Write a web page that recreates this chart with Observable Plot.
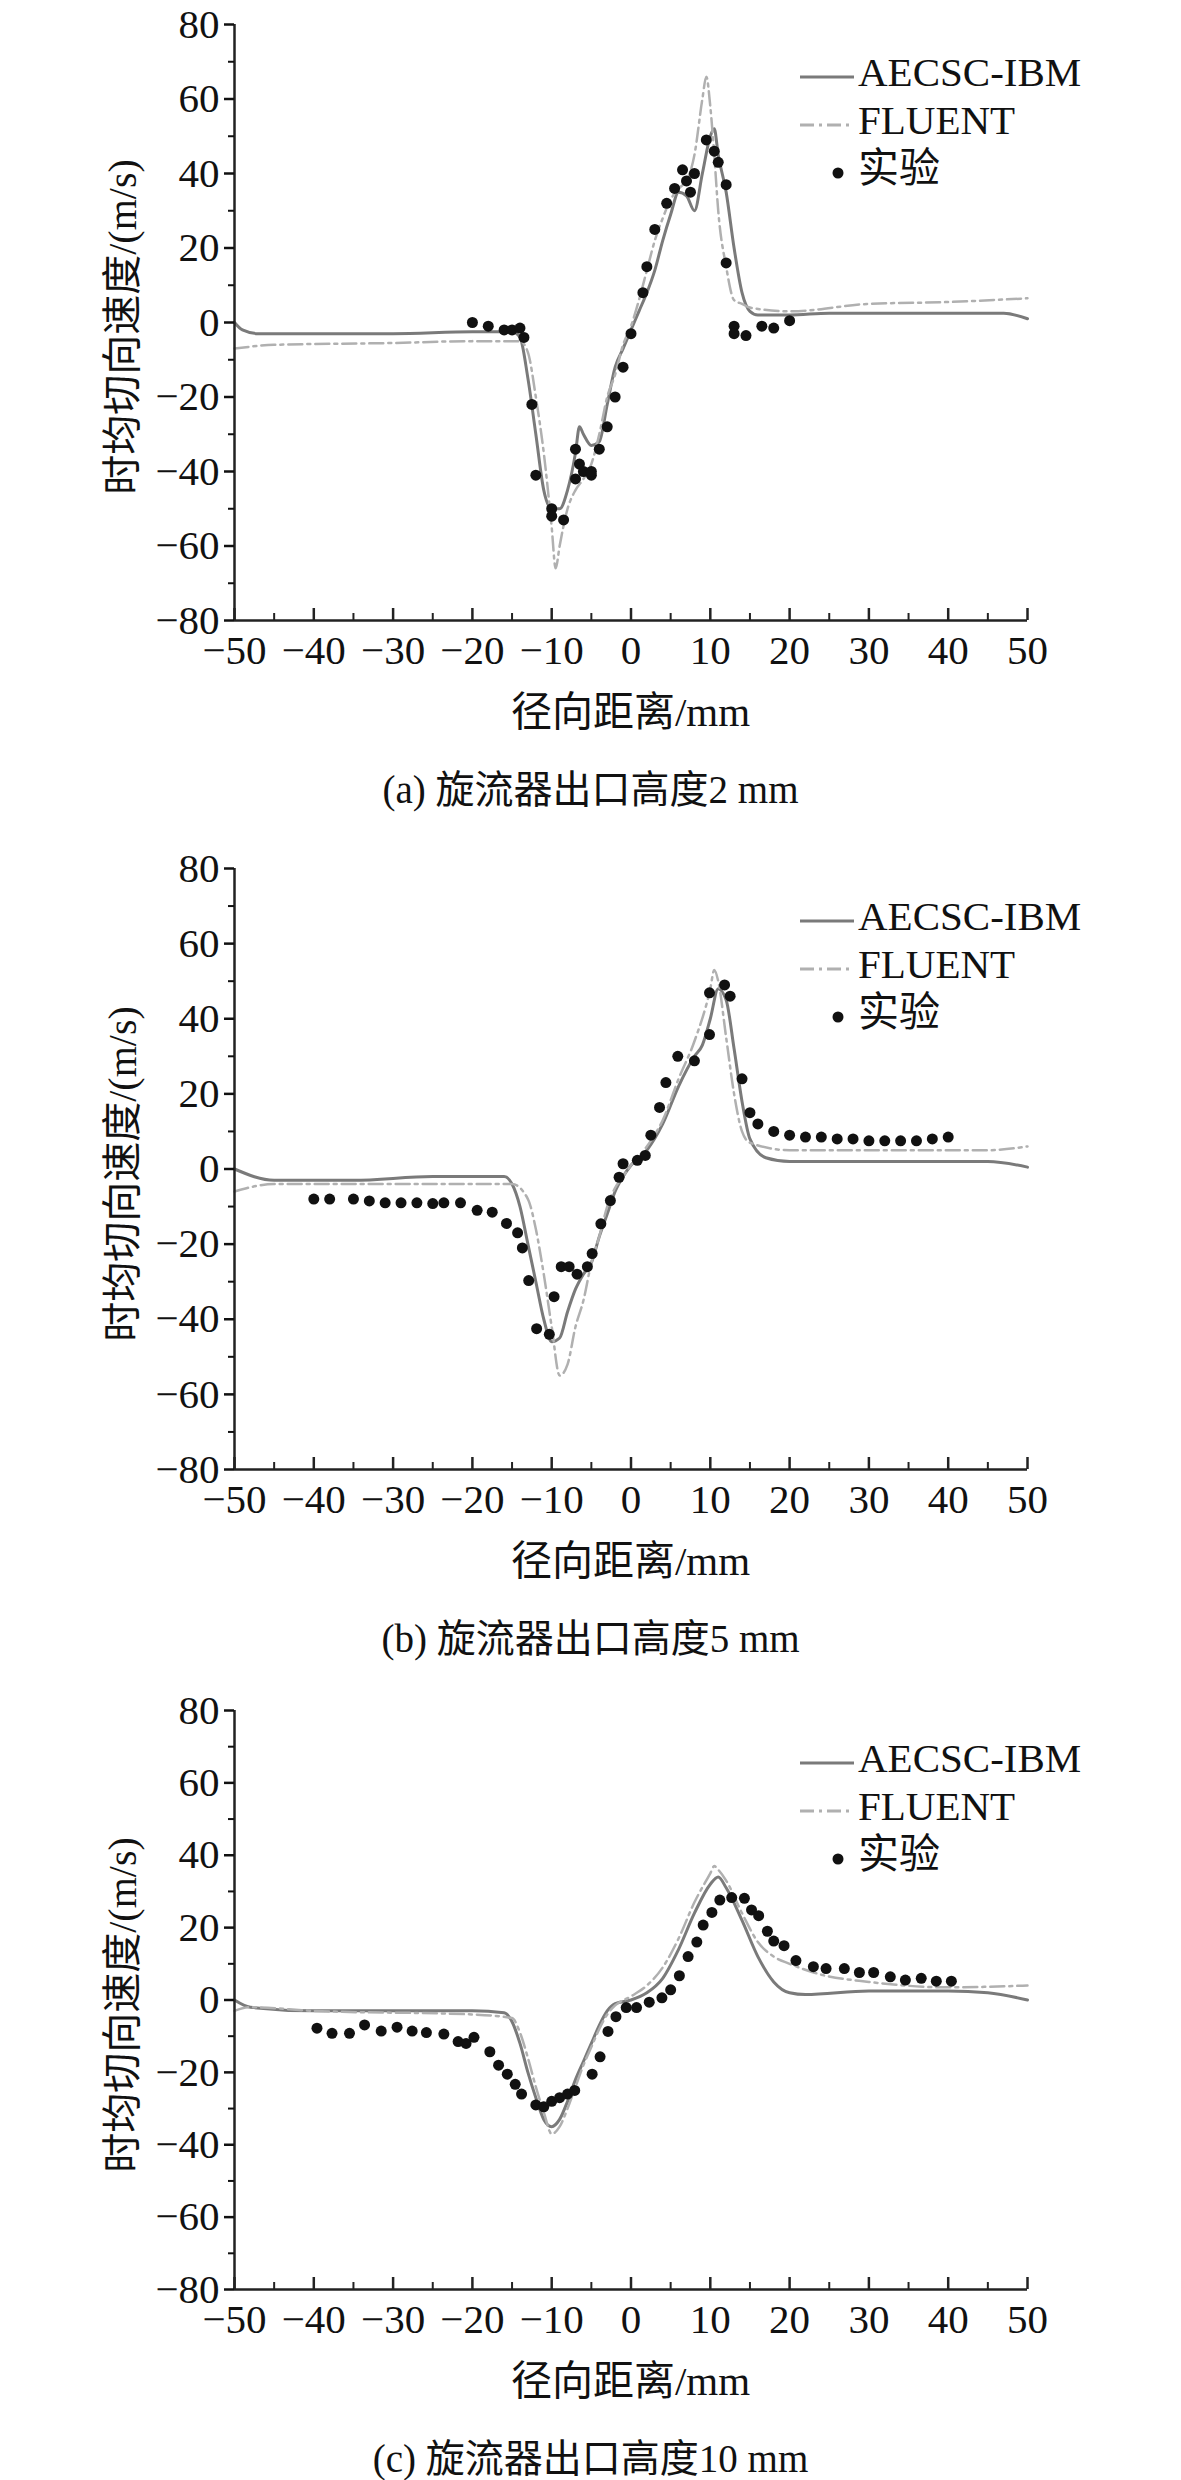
<!DOCTYPE html>
<html><head><meta charset="utf-8">
<script src="https://cdn.jsdelivr.net/npm/d3@7"></script>
<script src="https://cdn.jsdelivr.net/npm/@observablehq/plot@0.6"></script>
<style>
body{margin:0;background:#fff;}
#wrap{position:relative;width:1181px;height:2480px;font-family:"Liberation Serif","Noto Sans CJK SC",serif;color:#111;}
.panel{position:absolute;left:0;}
.leg{position:absolute;font-size:41px;line-height:40px;}
.cap{position:absolute;left:0;width:1181px;text-align:center;font-size:39px;}
.xl{position:absolute;left:234px;width:793px;text-align:center;font-size:41px;}
.yl{position:absolute;font-size:40px;transform:rotate(-90deg);transform-origin:center;white-space:nowrap;}
</style></head>
<body><div id="wrap"></div>
<script>
// ---------- data ----------
const aAecscX=[-50,-49,-47,-30,-20,-15,-14,-13,-12,-11,-10,-9,-8,-7,-6.5,-6,-5,-4,-3,-2,-1,0,1,2,3,4,5,6,7,8,9,10,10.5,11,12,13,14,15,16,20,25,40,47,50];
const aAecscY=[0,-2,-3,-3,-2.5,-2.5,-4,-15,-30,-45,-50,-50,-45,-35,-28,-30,-33,-32,-22,-12,-7,-2,3,8,14,22,29,35,34,30,40,50,52,45,35,20,8,3,2,2,2.5,2.5,2.5,1];
const aFluentX=[-50,-45,-30,-20,-14,-13,-12,-11,-10,-9.5,-9,-8,-7,-6,-5,-4,-3,-2,-1,0,1,2,3,4,5,6,7,8,9,9.5,10,10.5,11,12,13,14,15,20,30,40,50];
const aFluentY=[-7,-6,-5.5,-5,-5,-8,-20,-35,-55,-66,-60,-50,-45,-42,-38,-30,-20,-14,-6,-1,6,14,22,28,33,36,38,45,60,66,58,45,30,15,6,5,4,3,5,5.5,6.5];
const aExpX=[-20,-18,-16,-15,-14,-13.5,-12.5,-12,-10,-10,-8.5,-7,-7,-6.5,-6,-5,-5,-4,-3,-2,-1,0,1.5,2,3,4.5,5.5,6.5,7,7.5,8,9.5,10.5,11,12,12,13,13,14.5,16.5,18,20];
const aExpY=[0,-1,-2,-2,-1.5,-4,-22,-41,-50,-52,-53,-34,-42,-38,-40,-41,-40,-34,-28,-20,-12,-3,8,15,25,32,36,41,38,35,40,49,46,43,37,16,-1,-3,-3.5,-1,-1.5,0.5];

const bAecscX=[-50,-45,-35,-25,-16,-15,-14,-13,-12,-11,-10,-9,-8,-7,-6,-5,-4,-3,-2,-1,0,2,4,6,8,9,10,11,12,13,14,15,17,20,30,45,50];
const bAecscY=[0,-3,-3,-2,-2,-4,-10,-20,-30,-40,-46,-45,-38,-32,-28,-25,-18,-12,-6,-2,1,5,12,22,30,33,40,48,45,32,18,8,3,2,2,2,0.5];
const bFluentX=[-50,-45,-30,-15,-13,-12,-11,-10,-9,-8,-7,-6,-5,-4,-3,-2,-1,0,2,4,6,8,10,10.5,11,12,13,14,15,20,30,45,50];
const bFluentY=[-6,-4,-4,-4,-8,-16,-28,-42,-55,-52,-42,-35,-25,-18,-10,-5,-2,1,6,13,24,34,48,53,50,35,20,10,7,5,5,5,6];
const bExpX=[-40,-38,-35,-33,-31,-29,-27,-25,-23.6,-21.5,-19.4,-17.5,-15.7,-14.3,-13.7,-12.9,-11.9,-10.3,-9.7,-8.8,-7.8,-6.8,-5.5,-4.9,-3.8,-2.6,-1.5,-1,0.8,1.8,2.5,3.6,4.4,5.9,8,9.9,9.9,11.8,12.5,14,15,16,18,20,22,24,26,28,30,32,34,36,38,40];
const bExpY=[-8,-8,-8,-8.5,-9,-9,-9,-9.2,-9,-9,-11,-11.5,-14.5,-17,-21,-29.7,-42.5,-44,-34,-26,-26,-28,-26,-22.5,-14.6,-8.4,-2.2,1.4,2.3,3.6,9,16.4,23,30,28.8,35.8,46.9,49,46,24,15,12,10,9,8.5,8.5,8,8,7.5,7.5,7.5,7.5,8,8.5];

const cAecscX=[-50,-48,-40,-20,-16,-15,-14,-13,-12,-11,-10,-9,-8,-7,-6,-5,-4,-3,-2,0,2,4,6,8,10,11,12,14,16,18,20,22,30,40,45,50];
const cAecscY=[0,-2,-3,-3,-3.5,-6,-12,-20,-27,-33,-35,-33,-28,-22,-17,-12,-7,-3,-1,0,2,6,14,24,32,34,31,22,12,5,2,1.5,2.5,2.5,2,0];
const cFluentX=[-50,-48,-40,-20,-15,-14,-13,-12,-11,-10,-9,-8,-7,-6,-5,-4,-3,-2,0,2,4,6,8,10,10.5,11,12,14,16,18,20,24,30,40,50];
const cFluentY=[-3,-2,-3,-4,-5,-9,-16,-24,-31,-37,-35,-30,-24,-18,-13,-8,-4,-1.5,1,4,9,17,27,35,37,36,33,24,16,12,10,7,5,3.5,4];
const cExpX=[-39.6,-37.7,-35.5,-33.6,-31.5,-29.5,-27.6,-25.8,-23.6,-21.8,-20.8,-19.8,-17.8,-16.7,-15.6,-14.6,-13.8,-12,-11,-10,-9,-8,-7.1,-4.9,-3.9,-2.9,-1.9,-0.6,0.7,2.3,3.9,5,6.1,7.2,8.3,9.1,10.2,11.2,12.7,14.3,15.2,16.1,17.2,18,19.3,20.8,23,24.6,26.9,28.8,30.6,32.7,34.6,36.6,38.5,40.4];
const cExpY=[-7.8,-9.2,-9.2,-6.9,-8.6,-7.5,-8.6,-9,-9.4,-11.5,-12,-10.3,-14.3,-18,-20.5,-23.3,-26,-29,-29.5,-28,-27,-26,-25,-20.5,-15.7,-8.7,-4.6,-2.1,-2.1,-0.6,0.6,2.8,6.7,12,16,20.7,24.2,27.6,28.3,28.1,24.9,23.3,19,16.3,15,10.9,9.2,8.7,8.7,7.6,7.6,6.4,5.5,6,5.2,5.2];

const xTicks=[-50,-40,-30,-20,-10,0,10,20,30,40,50];
const xMinor=[-45,-35,-25,-15,-5,5,15,25,35,45];
const yTicks=[-80,-60,-40,-20,0,20,40,60,80];
const yMinor=[-70,-50,-30,-10,10,30,50,70];
const legendNames=["AECSC-IBM","FLUENT","实验"];
const captions=["(a) 旋流器出口高度2 mm","(b) 旋流器出口高度5 mm","(c) 旋流器出口高度10 mm"];
const xLabel="径向距离/mm";
const yLabel="时均切向速度/(m/s)";

const panels=[
 {ax:aAecscX,ay:aAecscY,fx:aFluentX,fy:aFluentY,ex:aExpX,ey:aExpY,top:24,h:596},
 {ax:bAecscX,ay:bAecscY,fx:bFluentX,fy:bFluentY,ex:bExpX,ey:bExpY,top:868,h:601},
 {ax:cAecscX,ay:cAecscY,fx:cFluentX,fy:cFluentY,ex:cExpX,ey:cExpY,top:1710,h:579}
];
const zip=(xs,ys)=>xs.map((x,i)=>({x,y:ys[i]}));
const wrap=document.getElementById("wrap");
const font='"Liberation Serif","Noto Sans CJK SC",serif';

panels.forEach((p,i)=>{
  const mt=24, mb=64;
  const upx=160/p.h;
  const svg=Plot.plot({
    width:1181,height:p.h+mt+mb,marginLeft:234,marginRight:154,marginTop:mt,marginBottom:mb,
    style:{fontFamily:font,fontSize:"41px",color:"#111",background:"transparent"},
    x:{domain:[-50,50]},y:{domain:[-80,80]},
    marks:[
      Plot.line(zip(p.ax,p.ay),{x:"x",y:"y",stroke:"#7a7a7a",strokeWidth:3,curve:"monotone-x"}),
      Plot.line(zip(p.fx,p.fy),{x:"x",y:"y",stroke:"#b0b0b0",strokeWidth:2.5,strokeDasharray:"14,5,3,5",curve:"monotone-x"}),
      Plot.dot(zip(p.ex,p.ey),{x:"x",y:"y",r:5.5,fill:"#111",stroke:"none"}),
      Plot.ruleY([-80],{stroke:"#222",strokeWidth:2.5}),
      Plot.ruleX([-50],{stroke:"#222",strokeWidth:2.5}),
      Plot.ruleX(xTicks,{y1:-80,y2:-80+12*upx,stroke:"#222",strokeWidth:2.5}),
      Plot.ruleX(xMinor,{y1:-80,y2:-80+7*upx,stroke:"#222",strokeWidth:2}),
      Plot.axisX(xTicks,{tickSize:0,tickPadding:14,fontSize:41,tickFormat:d=>d<0?"\u2212"+(-d):d,label:null}),
      Plot.axisY(yTicks,{tickSize:10,tickPadding:5,fontSize:41,tickFormat:d=>d<0?"\u2212"+(-d):d,label:null,strokeWidth:2.5}),
      Plot.axisY(yMinor,{tickSize:6,tickFormat:null,label:null,text:null,strokeWidth:2})
    ]
  });
  const d=document.createElement("div");d.className="panel";d.style.top=(p.top-mt)+"px";d.appendChild(svg);wrap.appendChild(d);
  const base=p.top+p.h;
  const xl=document.createElement("div");xl.className="xl";xl.textContent=xLabel;xl.style.top=(base+58)+"px";wrap.appendChild(xl);
  const cap=document.createElement("div");cap.className="cap";cap.textContent=captions[i];cap.style.top=(base+138)+"px";wrap.appendChild(cap);
  const yl=document.createElement("div");yl.className="yl";yl.textContent=yLabel;
  yl.style.width="440px";yl.style.textAlign="center";yl.style.left=(119-220)+"px";yl.style.top=(p.top+p.h/2-24)+"px";wrap.appendChild(yl);
  const styles=[{stroke:"#7a7a7a",dash:""},{stroke:"#b0b0b0",dash:"14,5,3,5"},null];
  legendNames.forEach((n,k)=>{
    const row=document.createElement("div");row.className="leg";
    row.style.left="798px";row.style.top=(p.top+28+k*48)+"px";
    const sym=styles[k]?`<svg width="58" height="20" style="vertical-align:middle"><line x1="2" x2="56" y1="10" y2="10" stroke="${styles[k].stroke}" stroke-width="3" stroke-dasharray="${styles[k].dash}"/></svg>`
      :`<svg width="58" height="20" style="vertical-align:middle"><circle cx="40" cy="10" r="5.5" fill="#111"/></svg>`;
    row.innerHTML=sym+`<span style="margin-left:2px">${n}</span>`;
    wrap.appendChild(row);
  });
});
</script></body></html>
